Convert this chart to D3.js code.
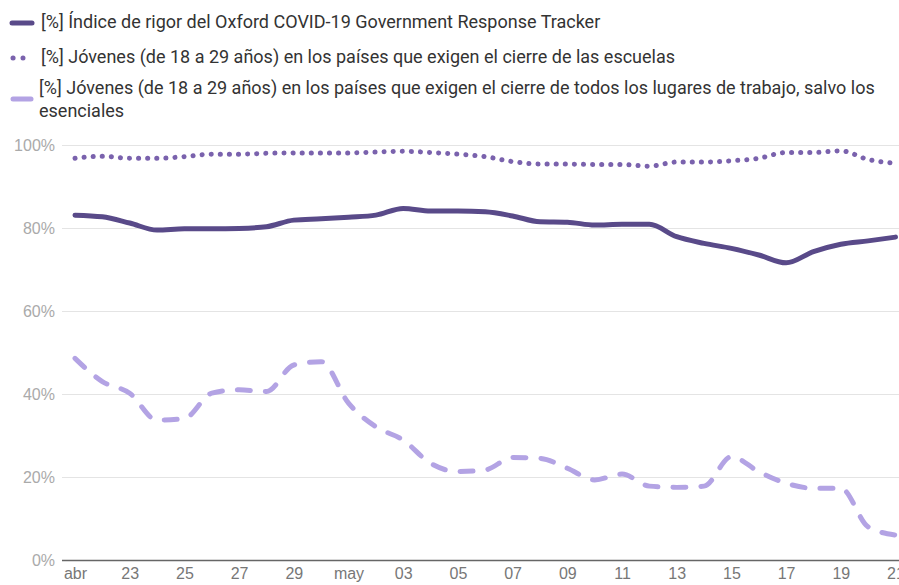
<!DOCTYPE html>
<html>
<head>
<meta charset="utf-8">
<script src="https://cdn.jsdelivr.net/npm/d3@7"></script>
<style>
  body { margin: 0; background: #fff; }
  svg { display: block; font-family: Roboto, "Noto Sans", sans-serif; }
</style>
</head>
<body>
<svg id="chart"></svg>
<script>
// categories: one point per day, 21 abr -> 21 may 2020
var startDate = new Date(2020, 3, 21);
var endDate = new Date(2020, 4, 21);
var days = d3.timeDay.range(startDate, d3.timeDay.offset(endDate, 1));

// series values (%)
var stringency = [83.1, 82.7, 81.2, 79.5, 79.8, 79.8, 79.9, 80.3, 81.9, 82.2, 82.6, 83.1, 84.7, 84.1,
  84.1, 83.9, 82.9, 81.5, 81.4, 80.7, 80.9, 80.9, 77.9, 76.3, 75.1, 73.5, 71.6, 74.3, 76.1, 76.9, 77.8];
var schools = [96.8, 97.3, 96.8, 96.8, 97.2, 97.8, 97.8, 98.0, 98.1, 98.1, 98.1, 98.3, 98.5, 98.2,
  97.8, 97.2, 96.0, 95.4, 95.4, 95.3, 95.3, 94.9, 95.9, 95.9, 96.2, 96.8, 98.2, 98.2, 98.6, 96.5, 95.6];
var workplaces = [48.6, 43.0, 40.2, 33.7, 34.1, 40.2, 41.0, 40.6, 47.0, 47.8, 37.8, 32.1, 28.9, 23.3,
  21.3, 21.7, 24.7, 24.5, 22.1, 19.3, 20.7, 17.8, 17.5, 17.8, 24.9, 21.3, 18.5, 17.3, 17.3, 8.0, 6.0];

// tick labels
var yTicks = [0, 20, 40, 60, 80, 100];
var xTickLabels = ["abr", "23", "25", "27", "29", "may", "03", "05", "07", "09", "11", "13", "15", "17", "19", "21"];

var legendLabels = [
  "[%] Índice de rigor del Oxford COVID-19 Government Response Tracker",
  "[%] Jóvenes (de 18 a 29 años) en los países que exigen el cierre de las escuelas",
  "[%] Jóvenes (de 18 a 29 años) en los países que exigen el cierre de todos los lugares de trabajo, salvo los|esenciales"
];

var W = 899, H = 585;
var svg = d3.select("#chart").attr("width", W).attr("height", H);

var x = d3.scaleTime().domain([startDate, endDate]).range([75, 895.5]);
var y = d3.scaleLinear().domain([0, 100]).range([560, 145]);

// gridlines + y labels
var yAxis = d3.axisLeft(y)
  .tickValues(yTicks)
  .tickSize(-(W - 62))
  .tickPadding(7)
  .tickFormat(function(d){ return d + "%"; });

var yG = svg.append("g")
  .attr("transform", "translate(62,0)")
  .call(yAxis);
yG.select(".domain").remove();
yG.selectAll(".tick line").attr("stroke", "#e4e4e4").attr("stroke-width", 1.2);
yG.selectAll(".tick text").attr("fill", "#aaa").attr("font-size", 16);
yG.selectAll(".tick").filter(function(d){ return d === 0; }).select("line")
  .attr("stroke", "#666").attr("stroke-width", 1.6);

// x axis, a label every 2 days
var xTicks = d3.timeDay.range(startDate, d3.timeDay.offset(endDate, 1), 2);
var xAxis = d3.axisBottom(x)
  .tickValues(xTicks)
  .tickSize(0)
  .tickPadding(8)
  .tickFormat(function(d, i){ return xTickLabels[i]; });

var xG = svg.append("g")
  .attr("transform", "translate(0,560)")
  .call(xAxis);
xG.select(".domain").remove();
xG.selectAll(".tick text").attr("fill", "#777").attr("font-size", 16).attr("dy", "0.71em");

// lines
var line = function(vals){
  return d3.line()
    .x(function(d, i){ return x(days[i]); })
    .y(function(d){ return y(d); })
    .curve(d3.curveMonotoneX)(vals);
};

svg.append("path")
  .attr("d", line(workplaces))
  .attr("fill", "none")
  .attr("stroke", "#b3a3e4")
  .attr("stroke-width", 5)
  .attr("stroke-linecap", "round")
  .attr("stroke-dasharray", "13 15");

svg.append("path")
  .attr("d", line(schools))
  .attr("fill", "none")
  .attr("stroke", "#7a62ad")
  .attr("stroke-width", 5)
  .attr("stroke-linecap", "round")
  .attr("stroke-dasharray", "0.1 9");

svg.append("path")
  .attr("d", line(stringency))
  .attr("fill", "none")
  .attr("stroke", "#594a89")
  .attr("stroke-width", 5)
  .attr("stroke-linecap", "round");

// legend
var lg = svg.append("g");
lg.append("line").attr("x1", 12).attr("x2", 32).attr("y1", 23).attr("y2", 23)
  .attr("stroke", "#594a89").attr("stroke-width", 5).attr("stroke-linecap", "round");
lg.append("line").attr("x1", 13).attr("x2", 23).attr("y1", 58).attr("y2", 58)
  .attr("stroke", "#7a62ad").attr("stroke-width", 5).attr("stroke-linecap", "round")
  .attr("stroke-dasharray", "0.1 9.9");
lg.append("line").attr("x1", 13).attr("x2", 31).attr("y1", 99).attr("y2", 99)
  .attr("stroke", "#b3a3e4").attr("stroke-width", 5).attr("stroke-linecap", "round");

var legendPos = [[41, 28], [41, 63], [39, 94]];
legendLabels.forEach(function(lbl, i){
  var t = lg.append("text")
    .attr("x", legendPos[i][0]).attr("y", legendPos[i][1])
    .attr("fill", "#333").attr("font-size", 18);
  lbl.split("|").forEach(function(part, j){
    t.append("tspan").attr("x", legendPos[i][0]).attr("dy", j === 0 ? 0 : 23).text(part);
  });
});
</script>
</body>
</html>
